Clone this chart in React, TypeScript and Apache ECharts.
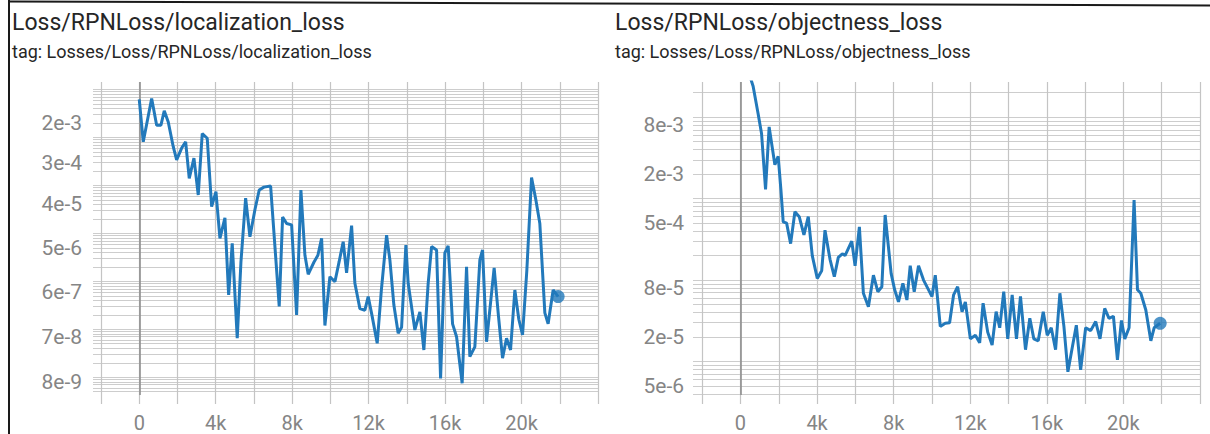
import React, { useEffect, useRef } from "react";
import * as echarts from "echarts";

const locTitle = "Loss/RPNLoss/localization_loss";
const locTag = "tag: Losses/Loss/RPNLoss/localization_loss";
const objTitle = "Loss/RPNLoss/objectness_loss";
const objTag = "tag: Losses/Loss/RPNLoss/objectness_loss";

const locSteps = [0, 209, 649, 910, 1135, 1308, 1517, 1778, 1956, 2218, 2427, 2615, 2861, 3086, 3295, 3556, 3787, 4012, 4221, 4482, 4676, 4864, 5126, 5319, 5565, 5790, 6051, 6276, 6522, 6872, 7322, 7500, 7709, 7971, 8232, 8457, 8667, 8839, 9137, 9346, 9540, 9713, 9974, 10236, 10460, 10669, 10847, 11109, 11281, 11543, 11804, 11977, 12170, 12448, 12667, 12939, 13112, 13321, 13546, 13724, 13949, 14069, 14419, 14681, 14890, 15115, 15293, 15554, 15764, 15988, 16161, 16391, 16600, 16893, 17123, 17296, 17557, 17819, 17960, 18169, 18567, 18787, 19006, 19215, 19425, 19650, 19859, 20052, 20277, 20523, 20748, 20957, 21219, 21391, 21653, 21914];
const locValues = [6.2e-3, 8.1e-4, 6.5e-3, 1.8e-3, 1.8e-3, 3.6e-3, 2.1e-3, 6.4e-4, 3.4e-4, 6.0e-4,
  8.1e-4, 1.4e-4, 3.7e-4, 6.3e-5, 1.2e-3, 9.6e-4, 3.6e-5, 7.4e-5, 7.9e-6, 2.1e-5,
  5.2e-7, 6.2e-6, 6.5e-8, 2.5e-6, 5.4e-5, 8.5e-6, 3.1e-5, 8.0e-5, 9.2e-5, 9.7e-5,
  3.0e-7, 2.2e-5, 1.6e-5, 1.5e-5, 2.0e-7, 8.0e-5, 3.5e-6, 1.4e-6, 2.5e-6, 3.5e-6,
  7.9e-6, 1.2e-7, 1.25e-6, 9.8e-7, 2.6e-6, 6.7e-6, 1.5e-6, 1.45e-5, 9.1e-7, 2.7e-7,
  2.5e-7, 4.8e-7, 2.0e-7, 5.1e-8, 6.6e-7, 9.2e-6, 2.8e-6, 3.2e-7, 8.3e-8, 1.1e-7,
  5.7e-6, 9.1e-7, 9.7e-8, 2.3e-7, 3.7e-8, 9.1e-7, 5.3e-6, 4.5e-6, 9.5e-9, 3.9e-6,
  5.5e-6, 1.3e-7, 7.0e-8, 7.5e-9, 2.0e-6, 2.7e-8, 4.3e-8, 2.8e-6, 4.5e-6, 5.5e-8,
  1.9e-6, 2.0e-7, 2.5e-8, 6.5e-8, 3.7e-8, 6.6e-7, 1.6e-7, 7.6e-8, 1.7e-6, 1.45e-4,
  5.0e-5, 1.6e-5, 2.2e-7, 1.3e-7, 6.6e-7, 4.8e-7];

const objSteps = [0, 660, 921, 1100, 1309, 1497, 1655, 1796, 1969, 2110, 2231, 2409, 2618, 2843, 3068, 3314, 3540, 3749, 4011, 4241, 4414, 4676, 4901, 5110, 5320, 5461, 5812, 5985, 6210, 6419, 6681, 6943, 7173, 7383, 7556, 7870, 8053, 8252, 8482, 8692, 8865, 9074, 9299, 9561, 9823, 10001, 10174, 10435, 10697, 10922, 11132, 11341, 11572, 11744, 12006, 12268, 12493, 12671, 12912, 13142, 13352, 13540, 13750, 13959, 14190, 14415, 14624, 14886, 15111, 15321, 15551, 15813, 16022, 16232, 16457, 16682, 16892, 17101, 17331, 17541, 17766, 18028, 18290, 18552, 18777, 19023, 19248, 19478, 19688, 19897, 20070, 20295, 20557, 20735, 20908, 21170, 21432, 21605, 21919];
const objValues = [7.2e-2, 2.4e-2, 1.1e-2, 6.3e-3, 1.3e-3, 7.6e-3, 4.3e-3, 2.6e-3, 3.3e-3, 1.3e-3,
  5.2e-4, 5.0e-4, 2.8e-4, 6.9e-4, 6.0e-4, 3.6e-4, 6.0e-4, 2.0e-4, 1.05e-4, 1.3e-4,
  4.1e-4, 1.8e-4, 1.1e-4, 1.9e-4, 2.1e-4, 2.0e-4, 3.0e-4, 1.5e-4, 4.5e-4, 6.9e-5,
  4.7e-5, 1.15e-4, 7.2e-5, 8.3e-5, 6.3e-4, 1.2e-4, 7.6e-5, 5.4e-5, 9.1e-5, 5.7e-5,
  1.5e-4, 7.2e-5, 1.5e-4, 1.0e-4, 7.6e-5, 6.3e-5, 1.15e-4, 2.7e-5, 2.95e-5, 3.0e-5,
  6.6e-5, 8.3e-5, 4.1e-5, 5.4e-5, 1.9e-5, 2.1e-5, 1.7e-5, 5.2e-5, 2.3e-5, 1.6e-5,
  4.1e-5, 2.6e-5, 7.2e-5, 1.9e-5, 6.6e-5, 1.9e-5, 6.3e-5, 1.4e-5, 3.4e-5, 1.9e-5,
  1.8e-5, 4.1e-5, 2.1e-5, 2.6e-5, 1.4e-5, 6.9e-5, 2.7e-5, 7.5e-6, 1.5e-5, 2.8e-5,
  7.9e-6, 2.6e-5, 2.4e-5, 3.1e-5, 1.9e-5, 4.5e-5, 3.4e-5, 3.6e-5, 1.05e-5, 3.2e-5,
  1.9e-5, 2.6e-5, 9.6e-4, 7.6e-5, 6.9e-5, 4.3e-5, 1.8e-5, 2.6e-5, 2.95e-5];

const locYLabels = [2e-3, 3e-4, 4e-5, 5e-6, 6e-7, 7e-8, 8e-9];
const objYLabels = [8e-3, 2e-3, 5e-4, 8e-5, 2e-5, 5e-6];
const xGridTicks = [-2000, 0, 2000, 4000, 6000, 8000, 10000, 12000, 14000, 16000, 18000, 20000, 22000, 24000];
const xLabelTicks = [0, 4000, 8000, 12000, 16000, 20000];
const mantissas = [1, 2, 3, 4, 5, 6, 7, 8, 9];
const exponents = [-10, -9, -8, -7, -6, -5, -4, -3, -2, -1];

const LINE_COLOR = "#2279bb";
const FONT = "Roboto";

function logGrid(min: number, max: number): number[] {
  const out: number[] = [];
  exponents.forEach((e) => {
    mantissas.forEach((m) => {
      const v = Number((m * Math.pow(10, e)).toPrecision(3));
      if (v >= min && v <= max) out.push(v);
    });
  });
  return out;
}

function fmtY(v: number): string {
  return Number(v).toExponential(0).replace("+", "");
}
function fmtX(v: number): string {
  return v === 0 ? "0" : Math.round(v / 1000) + "k";
}

export default function App() {
  const ref = useRef<HTMLDivElement>(null);
  useEffect(() => {
    if (!ref.current) return;
    const chart = echarts.init(ref.current, null, { renderer: "svg" });
    const yRanges = [
      { min: 4.27e-9, max: 1.43e-2 },
      { min: 3.89e-6, max: 2.7e-2 },
    ];
    const xRanges = [
      { min: -2420, max: 24000 },
      { min: -2480, max: 24000 },
    ];
    const yLabelSets = [locYLabels, objYLabels];
    const grids = [
      { left: 93, top: 82, width: 505, height: 313 },
      { left: 693, top: 82, width: 507, height: 313 },
    ];
    const xAxes = [0, 1].map((i) => ({
      gridIndex: i,
      type: "value",
      min: xRanges[i].min,
      max: xRanges[i].max,
      axisLine: { show: false },
      axisTick: {
        show: true,
        length: 9,
        lineStyle: { color: "#c4c4c4", width: 1.2 },
        customValues: xGridTicks,
      },
      splitLine: { show: true, lineStyle: { color: "#c4c4c4", width: 1.2 } },
      axisLabel: {
        customValues: xLabelTicks,
        formatter: fmtX,
        color: "#858585",
        fontSize: 20,
        fontFamily: FONT,
        margin: 18,
      },
    }));
    const yAxes = [0, 1].map((i) => ({
      gridIndex: i,
      type: "log",
      logBase: 10,
      min: yRanges[i].min,
      max: yRanges[i].max,
      axisLine: { show: false },
      axisTick: { show: false, customValues: logGrid(yRanges[i].min, yRanges[i].max) },
      splitLine: { show: true, lineStyle: { color: "#cdcdcd", width: 1 } },
      axisLabel: {
        customValues: yLabelSets[i],
        formatter: fmtY,
        color: "#858585",
        fontSize: 21,
        fontFamily: FONT,
        margin: i === 0 ? 11 : 9,
      },
    }));
    const sets = [
      { steps: locSteps, values: locValues },
      { steps: objSteps, values: objValues },
    ];
    const series: any[] = [];
    sets.forEach((s, i) => {
      const data = s.steps.map((x, k) => [x, s.values[k]]);
      series.push({
        type: "line",
        xAxisIndex: i,
        yAxisIndex: i,
        data,
        showSymbol: false,
        clip: true,
        lineStyle: { color: LINE_COLOR, width: 3 },
        z: 3,
        markLine: {
          silent: true,
          symbol: "none",
          label: { show: false },
          lineStyle: { color: "#8f8f8f", width: 1.6, type: "solid" },
          data: [{ xAxis: 0 }],
          z: 2,
        },
      });
      series.push({
        type: "scatter",
        xAxisIndex: i,
        yAxisIndex: i,
        data: [data[data.length - 1]],
        symbol: "circle",
        symbolSize: 13,
        itemStyle: { color: LINE_COLOR },
        z: 4,
      });
    });
    chart.setOption({
      animation: false,
      backgroundColor: "#ffffff",
      textStyle: { fontFamily: FONT },
      title: [
        { text: locTitle, subtext: locTag, left: 12, top: 11 },
        { text: objTitle, subtext: objTag, left: 615, top: 11 },
      ].map((t) => ({
        ...t,
        padding: 0,
        itemGap: 8,
        textStyle: { fontSize: 23, fontWeight: "normal", color: "#262626", fontFamily: FONT },
        subtextStyle: { fontSize: 18, color: "#262626", fontFamily: FONT },
      })),
      grid: grids,
      xAxis: xAxes,
      yAxis: yAxes,
      series,
      graphic: [
        {
          type: "line",
          shape: { x1: 9, y1: 1.5, x2: 1210, y2: 5.5 },
          style: { stroke: "#1a1a1a", lineWidth: 2 },
          silent: true,
        },
        {
          type: "line",
          shape: { x1: 9, y1: 0, x2: 9, y2: 434 },
          style: { stroke: "#1a1a1a", lineWidth: 2 },
          silent: true,
        },
      ],
    });
    return () => chart.dispose();
  }, []);
  return (
    <div
      ref={ref}
      style={{ position: "fixed", left: 0, top: 0, width: 1210, height: 434, background: "#fff" }}
    />
  );
}
